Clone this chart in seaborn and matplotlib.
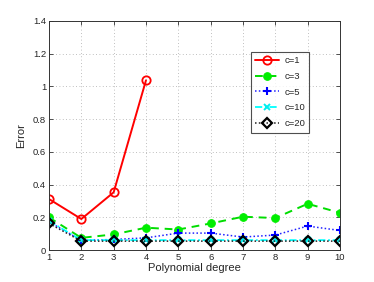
import matplotlib
matplotlib.use("Agg")
import matplotlib.pyplot as plt
import seaborn as sns
import pandas as pd

degrees = [1, 2, 3, 4, 5, 6, 7, 8, 9, 10]
err_c1 = [0.312, 0.19, 0.353, 1.037]
err_c3 = [0.20, 0.075, 0.096, 0.137, 0.126, 0.163, 0.204, 0.196, 0.283, 0.228]
err_c5 = [0.173, 0.06, 0.065, 0.075, 0.104, 0.104, 0.08, 0.092, 0.147, 0.12]
err_c10 = [0.178, 0.061, 0.061, 0.061, 0.061, 0.061, 0.061, 0.061, 0.061, 0.061]
err_c20 = [0.163, 0.055, 0.055, 0.055, 0.055, 0.055, 0.055, 0.055, 0.055, 0.055]
labels = ["c=1", "c=3", "c=5", "c=10", "c=20"]

sns.set_style("white")
plt.rcParams['font.family'] = ['Liberation Sans', 'DejaVu Sans']

fig = plt.figure(figsize=(3.74, 2.82), dpi=100)
ax = fig.add_axes([0.131, 0.113, 0.778, 0.813])

series = [err_c1, err_c3, err_c5, err_c10, err_c20]
styles = [
    dict(color="#ff0000", linestyle="-", marker="o", markerfacecolor="none", markeredgecolor="#ff0000", markersize=6, markeredgewidth=1.3, linewidth=1.4),
    dict(color="#00dd00", linestyle=(0, (4, 3)), marker="o", markerfacecolor="#00ee00", markeredgecolor="#00ee00", markersize=5.5, linewidth=1.4),
    dict(color="#2222ff", linestyle=(0, (1, 1.5)), marker="+", markeredgecolor="#0000ff", markersize=6, markeredgewidth=1.5, linewidth=1.1),
    dict(color="#00ffff", linestyle=(0, (4, 1.5, 1, 1.5)), marker="x", markeredgecolor="#00eeee", markersize=4.5, markeredgewidth=1.4, linewidth=1.3),
    dict(color="#222222", linestyle=(0, (1, 1.5)), marker="D", markerfacecolor="none", markeredgecolor="#000000", markersize=5, markeredgewidth=1.6, linewidth=1.1),
]
for vals, lab, st in zip(series, labels, styles):
    df = pd.DataFrame({"x": degrees[:len(vals)], "y": vals})
    sns.lineplot(data=df, x="x", y="y", ax=ax, label=lab, **st)

ax.set_xlim(1, 10)
ax.set_ylim(0, 1.4)
ax.set_xticks(degrees)
ax.set_xticklabels([str(d) for d in degrees])
yt = [0, 0.2, 0.4, 0.6, 0.8, 1, 1.2, 1.4]
ax.set_yticks(yt)
ax.set_yticklabels(["0", "0.2", "0.4", "0.6", "0.8", "1", "1.2", "1.4"])
ax.tick_params(direction="in", length=3, width=0.6, labelsize=6.8, color="#333333", pad=2,
               top=True, right=True, bottom=True, left=True)
ax.grid(True, linestyle=(0, (1, 3)), color="#aaaaaa", linewidth=0.6)
for s in ax.spines.values():
    s.set_visible(True)
    s.set_color("#333333")
    s.set_linewidth(0.7)
ax.set_xlabel("Polynomial degree", fontsize=8, labelpad=1)
ax.set_ylabel("Error", fontsize=8, labelpad=5)

leg = ax.legend(loc="upper left", bbox_to_anchor=(0.693, 0.865), borderaxespad=0, fontsize=6.8,
                frameon=True, fancybox=False, edgecolor="#222222", handlelength=2.6, borderpad=0.45,
                labelspacing=0.72, handletextpad=0.5)
leg.get_frame().set_linewidth(0.8)

fig.savefig("out.png", dpi=100)
